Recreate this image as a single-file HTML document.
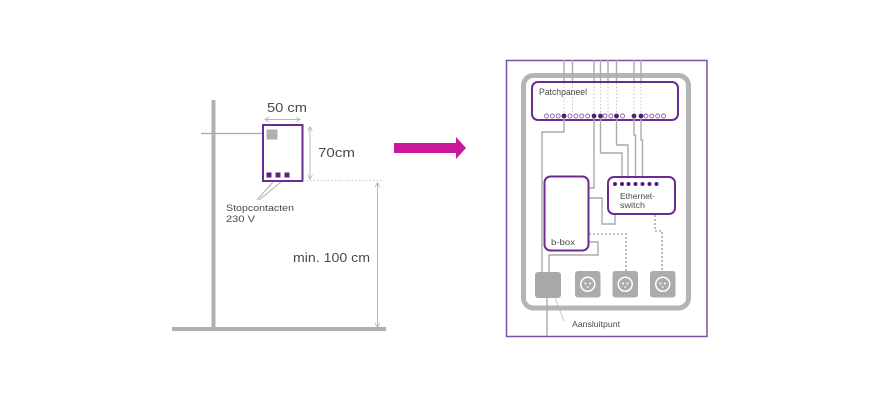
<!DOCTYPE html>
<html><head><meta charset="utf-8"><style>
html,body{margin:0;padding:0;background:#fff;}
svg{display:block;}
text{font-family:"Liberation Sans",sans-serif;fill:#4a4a4a;}
</style></head><body>
<svg width="880" height="400" viewBox="0 0 880 400" xmlns="http://www.w3.org/2000/svg">
<defs>
<marker id="ah" viewBox="0 0 10 10" refX="9" refY="5" markerWidth="5" markerHeight="5" orient="auto-start-reverse">
<path d="M0,0 L10,5 L0,10" fill="none" stroke="#b0b0b0" stroke-width="1.5"/>
</marker>
</defs>
<!-- LEFT -->
<line x1="213.5" y1="100" x2="213.5" y2="330" stroke="#b0b0b0" stroke-width="4"/>
<line x1="172" y1="329" x2="386" y2="329" stroke="#b0b0b0" stroke-width="4"/>
<line x1="201" y1="133.5" x2="268" y2="133.5" stroke="#a8a8a8" stroke-width="1.2"/>
<rect x="263" y="125" width="39.5" height="56" fill="#fff" stroke="#6b2c91" stroke-width="2"/>
<rect x="266.5" y="129.5" width="11" height="10" fill="#b0b0b0"/>
<rect x="266.5" y="172.5" width="5" height="5" fill="#5a2580"/>
<rect x="275.5" y="172.5" width="5" height="5" fill="#5a2580"/>
<rect x="284.5" y="172.5" width="5" height="5" fill="#5a2580"/>
<line x1="265" y1="119.5" x2="300" y2="119.5" stroke="#b8b8b8" stroke-width="1" marker-start="url(#ah)" marker-end="url(#ah)"/>
<line x1="310" y1="127" x2="310" y2="179" stroke="#b8b8b8" stroke-width="1" marker-start="url(#ah)" marker-end="url(#ah)"/>
<line x1="377.5" y1="183" x2="377.5" y2="327" stroke="#b8b8b8" stroke-width="1" marker-start="url(#ah)" marker-end="url(#ah)"/>
<line x1="303" y1="180.5" x2="384" y2="180.5" stroke="#cccccc" stroke-width="1" stroke-dasharray="1.5 2"/>
<line x1="273" y1="182" x2="257" y2="200" stroke="#b0b0b0" stroke-width="1"/>
<line x1="281" y1="182" x2="259" y2="200" stroke="#b0b0b0" stroke-width="1"/>
<text x="267" y="112" font-size="13" textLength="40" lengthAdjust="spacingAndGlyphs">50 cm</text>
<text x="318" y="157" font-size="13" textLength="37" lengthAdjust="spacingAndGlyphs">70cm</text>
<text x="293" y="262" font-size="13" textLength="77" lengthAdjust="spacingAndGlyphs">min. 100 cm</text>
<text x="226" y="211" font-size="9.5" textLength="68" lengthAdjust="spacingAndGlyphs">Stopcontacten</text>
<text x="226" y="222" font-size="9.5" textLength="29" lengthAdjust="spacingAndGlyphs">230 V</text>
<!-- ARROW -->
<polygon points="394,143 456,143 456,137 466,148 456,159 456,153 394,153" fill="#c8179a"/>
<!-- RIGHT -->
<rect x="506.5" y="60.5" width="200.5" height="276" fill="none" stroke="#7d50a3" stroke-width="1.5"/>
<rect x="523.5" y="75.5" width="165" height="232.5" rx="10" fill="none" stroke="#b5b5b5" stroke-width="5"/>
<!-- top cables -->
<g stroke="#aaaaaa" stroke-width="1.4" fill="none">
<path d="M564,60V82M572.5,60V82M594,60V82M600.5,60V82M608,60V82M616.5,60V82M634,60V82M641,60V82"/>
</g>
<g stroke="#c4c4c4" stroke-width="1" fill="none" stroke-dasharray="1.5 2">
<path d="M564,83V113M572.5,83V113M594,83V113M600.5,83V113M608,83V113M616.5,83V113M634,83V113M641,83V113"/>
</g>
<rect x="532" y="82" width="146" height="38" rx="6" fill="none" stroke="#6b2c91" stroke-width="2"/>
<text x="539" y="95" font-size="9" textLength="48" lengthAdjust="spacingAndGlyphs">Patchpaneel</text>
<g fill="#fff" stroke="#8a60ad" stroke-width="0.9">
<circle cx="546.5" cy="116" r="2"/><circle cx="552.35" cy="116" r="2"/><circle cx="558.2" cy="116" r="2"/>
<circle cx="570" cy="116" r="2"/><circle cx="575.9" cy="116" r="2"/><circle cx="581.75" cy="116" r="2"/><circle cx="587.6" cy="116" r="2"/>
<circle cx="605" cy="116" r="2"/><circle cx="610.85" cy="116" r="2"/>
<circle cx="622.55" cy="116" r="2"/>
<circle cx="645.95" cy="116" r="2"/><circle cx="651.8" cy="116" r="2"/><circle cx="657.65" cy="116" r="2"/><circle cx="663.5" cy="116" r="2"/>
</g>
<g fill="#4e1f78">
<circle cx="564" cy="116" r="2.4"/><circle cx="594" cy="116" r="2.4"/><circle cx="600.5" cy="116" r="2.4"/>
<circle cx="616.5" cy="116" r="2.4"/><circle cx="634" cy="116" r="2.4"/><circle cx="641" cy="116" r="2.4"/>
</g>
<!-- internal cables -->
<g stroke="#aaaaaa" stroke-width="1.4" fill="none">
<path d="M564,118.5V132H542V272"/>
<path d="M594,118.5V188H589"/>
<path d="M600.5,118.5V153H622V177"/>
<path d="M616.5,118.5V145H628V177"/>
<path d="M634,118.5V135H635.5V177"/>
<path d="M641,118.5V140H642.5V177"/>
<path d="M589,198H602V224H615V214"/>
<path d="M589,242H598V255H549V272"/>
<path d="M547,298V336"/>
</g>
<g stroke="#aaaaaa" stroke-width="1.6" fill="none" stroke-dasharray="2 2">
<path d="M589,234H626V271"/>
<path d="M655,215V231H662V271"/>
</g>
<rect x="544.5" y="176.5" width="44" height="74" rx="6" fill="none" stroke="#6b2c91" stroke-width="2"/>
<text x="551" y="245" font-size="8.5" textLength="24" lengthAdjust="spacingAndGlyphs">b-box</text>
<rect x="608" y="177" width="67" height="37" rx="6" fill="#fff" stroke="#6b2c91" stroke-width="2"/>
<g fill="#4e1f78">
<circle cx="615" cy="184" r="2"/><circle cx="622" cy="184" r="2"/><circle cx="628.5" cy="184" r="2"/><circle cx="635.5" cy="184" r="2"/><circle cx="642.5" cy="184" r="2"/><circle cx="649.5" cy="184" r="2"/><circle cx="656.5" cy="184" r="2"/>
</g>
<text x="620" y="199" font-size="8.5" textLength="35" lengthAdjust="spacingAndGlyphs">Ethernet-</text>
<text x="620" y="208" font-size="8.5" textLength="25" lengthAdjust="spacingAndGlyphs">switch</text>
<!-- outlets -->
<rect x="535" y="272" width="26" height="26" rx="3" fill="#a8a8a8"/>
<g>
<rect x="575" y="271" width="25.5" height="26.5" rx="3" fill="#ababab"/>
<circle cx="587.75" cy="284.25" r="7" fill="none" stroke="#fff" stroke-width="1.5"/>
<circle cx="585.5" cy="283.5" r="1" fill="#fff"/><circle cx="590" cy="283.5" r="1" fill="#fff"/><circle cx="587.75" cy="287" r="0.9" fill="#fff"/>
</g>
<g>
<rect x="612.5" y="271" width="25.5" height="26.5" rx="3" fill="#ababab"/>
<circle cx="625.25" cy="284.25" r="7" fill="none" stroke="#fff" stroke-width="1.5"/>
<circle cx="623" cy="283.5" r="1" fill="#fff"/><circle cx="627.5" cy="283.5" r="1" fill="#fff"/><circle cx="625.25" cy="287" r="0.9" fill="#fff"/>
</g>
<g>
<rect x="650" y="271" width="25.5" height="26.5" rx="3" fill="#ababab"/>
<circle cx="662.75" cy="284.25" r="7" fill="none" stroke="#fff" stroke-width="1.5"/>
<circle cx="660.5" cy="283.5" r="1" fill="#fff"/><circle cx="665" cy="283.5" r="1" fill="#fff"/><circle cx="662.75" cy="287" r="0.9" fill="#fff"/>
</g>
<line x1="555" y1="298" x2="564" y2="321" stroke="#bbbbbb" stroke-width="0.8"/>
<text x="572" y="327" font-size="8.5" textLength="48" lengthAdjust="spacingAndGlyphs">Aansluitpunt</text>
</svg>
</body></html>
